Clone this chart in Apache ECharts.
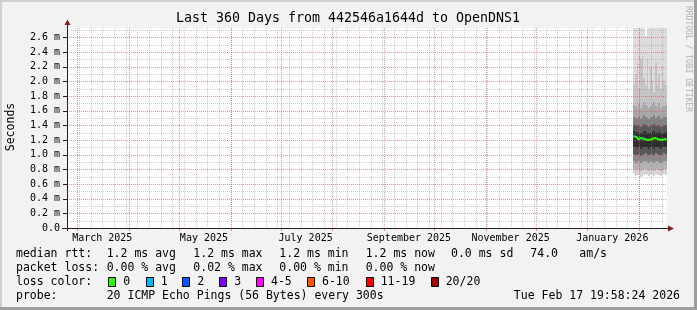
<!DOCTYPE html>
<html><head><meta charset="utf-8">
<script src="https://cdn.jsdelivr.net/npm/echarts@6/dist/echarts.min.js"></script>
<style>html,body{margin:0;padding:0;background:#f2f2f2}#c{width:697px;height:310px}</style>
</head><body><div id="c"></div>
<script>
// ---------- data ----------
const titleText = 'Last 360 Days from 442546a1644d to OpenDNS1';
const endTime = '2026-02-17T19:58:24Z';
const spanDays = 360;
const monthStarts = ['2025-03-01','2025-04-01','2025-05-01','2025-06-01','2025-07-01','2025-08-01',
  '2025-09-01','2025-10-01','2025-11-01','2025-12-01','2026-01-01','2026-02-01'];
const monthLabelDates = ['2025-03-16','2025-05-16','2025-07-16','2025-09-16','2025-11-16','2026-01-16'];
const monthLabelTexts = ['March 2025','May 2025','July 2025','September 2025','November 2025','January 2026'];
const firstWeekLine = '2025-02-23';
const yMajor = [0.2,0.4,0.6,0.8,1.0,1.2,1.4,1.6,1.8,2.0,2.2,2.4,2.6];
const yMinor = [0.1,0.3,0.5,0.7,0.9,1.1,1.3,1.5,1.7,1.9,2.1,2.3,2.5,2.7];
const yLabels = [0,0.2,0.4,0.6,0.8,1.0,1.2,1.4,1.6,1.8,2.0,2.2,2.4,2.6];

const sampleDates = ['2026-01-28T15:00Z','2026-01-29T15:00Z','2026-01-30T15:00Z','2026-01-31T15:00Z',
  '2026-02-01T15:00Z','2026-02-02T15:00Z','2026-02-03T15:00Z','2026-02-04T15:00Z','2026-02-05T15:00Z',
  '2026-02-06T15:00Z','2026-02-07T15:00Z','2026-02-08T15:00Z','2026-02-09T15:00Z','2026-02-10T15:00Z',
  '2026-02-11T15:00Z','2026-02-12T15:00Z','2026-02-13T15:00Z','2026-02-14T15:00Z','2026-02-15T15:00Z',
  '2026-02-16T15:00Z','2026-02-17T19:58:24Z'];
// smoke boundaries (ms), from lowest ping to highest
const pingMin = [0.73,0.71,0.72,0.72,0.70,0.71,0.72,0.73,0.72,0.71,0.72,0.72,0.71,0.73,0.72,0.72,0.71,0.72,0.73,0.72,0.72];
const pingLo1 = [0.80,0.79,0.79,0.80,0.78,0.79,0.80,0.81,0.79,0.78,0.80,0.79,0.78,0.81,0.80,0.79,0.78,0.79,0.81,0.80,0.80];
const pingLo2 = [0.91,0.89,0.90,0.91,0.88,0.90,0.91,0.92,0.90,0.89,0.91,0.90,0.89,0.92,0.91,0.90,0.89,0.90,0.92,0.91,0.91];
const pingLo3 = [1.01,0.99,1.00,1.01,0.98,1.00,1.01,1.02,1.00,0.99,1.01,1.00,0.99,1.02,1.01,1.00,0.99,1.00,1.02,1.01,1.01];
const pingLo4 = [1.10,1.09,1.09,1.10,1.08,1.09,1.10,1.11,1.09,1.08,1.10,1.09,1.08,1.11,1.10,1.09,1.08,1.09,1.11,1.10,1.10];
const median  = [1.25,1.24,1.22,1.21,1.23,1.22,1.21,1.22,1.20,1.19,1.21,1.22,1.23,1.21,1.21,1.22,1.20,1.20,1.21,1.21,1.21];
const pingHi4 = [1.32,1.31,1.30,1.31,1.29,1.30,1.32,1.31,1.29,1.29,1.30,1.31,1.32,1.29,1.30,1.31,1.29,1.29,1.30,1.31,1.31];
const pingHi3 = [1.41,1.40,1.39,1.41,1.38,1.40,1.42,1.41,1.39,1.38,1.40,1.41,1.42,1.39,1.40,1.41,1.38,1.39,1.40,1.41,1.41];
const pingHi2 = [1.52,1.50,1.49,1.52,1.48,1.51,1.54,1.52,1.50,1.48,1.51,1.52,1.54,1.50,1.51,1.53,1.49,1.50,1.51,1.52,1.52];
const pingHi1 = [1.68,1.66,1.64,1.70,1.63,1.68,1.72,1.68,1.66,1.63,1.67,1.69,1.72,1.66,1.67,1.70,1.64,1.66,1.67,1.68,1.68];
const pingHi0 = [1.95,2.10,2.25,1.90,2.30,2.35,2.05,1.95,2.30,1.90,2.20,2.00,1.85,2.25,1.95,2.10,1.90,2.20,2.00,1.95,1.95];
const pingMax = [2.73,2.73,2.73,2.73,2.73,2.73,2.73,2.62,2.73,2.73,2.73,2.73,2.73,2.73,2.73,2.73,2.73,2.73,2.73,2.73,2.73];
const lossCount = [1,0,0,0,0,1,0,0,0,0,0,0,0,0,0,0,0,0,0,0,0];

const lossColors = ['#26ff00','#00b8ff','#0059ff','#7e00ff','#ff00ff','#ff5500','#ff0000','#a10000'];
const lossLabels = ['0','1','2','3','4-5','6-10','11-19','20/20'];
const legendRows = [
  ['median rtt:', '1.2 ms avg', '1.2 ms max', '1.2 ms min', '1.2 ms now', '0.0 ms sd', '74.0', 'am/s'],
  ['packet loss:', '0.00 % avg', '0.02 % max', '0.00 % min', '0.00 % now'],
  ['loss color:'],
  ['probe:', '20 ICMP Echo Pings (56 Bytes) every 300s']
];
const stampText = 'Tue Feb 17 19:58:24 2026';
const yAxisName = 'Seconds';
const watermark = 'RRDTOOL / TOBI OETIKER';

// ---------- build ----------
const DAY = 86400000;
const tEnd = Date.parse(endTime);
const tStart = tEnd - spanDays * DAY;
const ts = sampleDates.map(d => Date.parse(d));
const mStarts = monthStarts.map(d => Date.parse(d + 'T00:00:00Z'));
const mLabelT = monthLabelDates.map(d => Date.parse(d + 'T00:00:00Z'));
const labelMap = {};
mLabelT.forEach((t, i) => labelMap[t] = monthLabelTexts[i]);
const weekLines = [];
for (let t = Date.parse(firstWeekLine + 'T00:00:00Z'); t < tEnd; t += 7 * DAY) weekLines.push(t);

const bounds = [pingMin, pingLo1, pingLo2, pingLo3, pingLo4, median, pingHi4, pingHi3, pingHi2, pingHi1, pingHi0, pingMax];
const bandColors = ['#d4d4d4','#b2b2b2','#8a8a8a','#585858','#2e2e2e','#2e2e2e','#585858','#828282','#a8a8a8','#c4c4c4','#dcdcdc'];

const FONT = 'DejaVu Sans Mono';
const YMAX = 2.727;
const minorColor = 'rgba(143,143,143,0.42)';
const majorColor = 'rgba(222,79,79,0.6)';
const axisColor = '#1f1f1f';

const smokeData = [];
for (let i = 0; i < ts.length - 1; i++)
  for (let b = 0; b < bandColors.length; b++)
    smokeData.push([ts[i], ts[i+1], bounds[b][i], bounds[b+1][i], b]);

function vLineSeries(values, color, withTick, z) {
  return { type:'custom', silent:true, z, data:values.map(t => [t, 0]), encode:{x:0, y:1},
    renderItem(params, api) {
      const cs = params.coordSys;
      const x = Math.round(api.coord([api.value(0), 0])[0]) + 0.5;
      const children = [{ type:'line', shape:{x1:x, y1:cs.y, x2:x, y2:cs.y + cs.height},
        style:{stroke:color, lineWidth:1, lineDash:[1,1]} }];
      if (withTick) children.push({ type:'line', shape:{x1:x, y1:cs.y + cs.height, x2:x, y2:cs.y + cs.height + 3},
        style:{stroke:color, lineWidth:1} });
      return { type:'group', children };
    } };
}
function hLineSeries(values, color, showLine, withTick, z) {
  return { type:'custom', silent:true, z, data:values.map(v => [tStart, v]), encode:{x:0, y:1},
    renderItem(params, api) {
      const cs = params.coordSys;
      const y = Math.round(api.coord([api.value(0), api.value(1)])[1]) + 0.5;
      const children = [];
      if (showLine) children.push({ type:'line', shape:{x1:cs.x, y1:y, x2:cs.x + cs.width, y2:y},
        style:{stroke:color, lineWidth:1, lineDash:[1,1]} });
      if (withTick) children.push({ type:'line', shape:{x1:cs.x - 4, y1:y, x2:cs.x, y2:y},
        style:{stroke:axisColor, lineWidth:1} });
      return { type:'group', children };
    } };
}

const series = [];
series.push({ type:'custom', silent:true, z:2, data:smokeData, encode:{x:[0,1], y:[2,3]},
  renderItem(params, api) {
    const cs = params.coordSys;
    const a = api.coord([api.value(0), api.value(3)]);
    const b = api.coord([api.value(1), api.value(2)]);
    const x0 = Math.round(a[0]), x1 = Math.round(b[0]);
    const y0 = Math.max(Math.round(a[1]), cs.y), y1 = Math.min(Math.round(b[1]), cs.y + cs.height);
    if (y1 <= y0 || x1 <= x0) return null;
    return { type:'rect', shape:{x:x0, y:y0, width:x1-x0, height:y1-y0}, style:{fill:bandColors[api.value(4)]} };
  } });
series.push(vLineSeries(weekLines, minorColor, false, 3));
series.push(hLineSeries(yMinor, minorColor, true, false, 3));
series.push(hLineSeries(yMajor, majorColor, true, true, 3.5));
series.push(hLineSeries([0], majorColor, false, true, 3.5));
series.push(vLineSeries(mStarts, majorColor, true, 3.6));
series.push({ type:'line', step:'end', symbol:'none', silent:true, z:4,
  lineStyle:{color:lossColors[0], width:2}, data: ts.map((t,i)=>[t, median[i]]) });
for (let i = 0; i < ts.length - 1; i++) {
  if (lossCount[i] > 0) {
    series.push({ type:'line', step:'end', symbol:'none', silent:true, z:5,
      lineStyle:{color:lossColors[lossCount[i]], width:2},
      data:[[ts[i], median[i]], [ts[i+1], median[i]]] });
  }
}

const graphic = [];
const txt = (x, y, s, size) => graphic.push({ type:'text', x, y,
  style:{ text:s, font: size + 'px "' + FONT + '"', fill:'#000', textVerticalAlign:'middle' } });
graphic.push({type:'rect', shape:{x:0,y:0,width:697,height:2}, style:{fill:'#cfcfcf'}});
graphic.push({type:'rect', shape:{x:0,y:0,width:2,height:310}, style:{fill:'#cfcfcf'}});
graphic.push({type:'rect', shape:{x:0,y:307,width:697,height:3}, style:{fill:'#9e9e9e'}});
graphic.push({type:'rect', shape:{x:694,y:0,width:3,height:310}, style:{fill:'#9e9e9e'}});
graphic.push({type:'text', x:348, y:19, style:{text:titleText, font:'13.3px "'+FONT+'"', fill:'#000', textAlign:'center', textVerticalAlign:'middle'}});
graphic.push({type:'text', x:11, y:127, rotation:Math.PI/2, style:{text:yAxisName, font:'11.5px "'+FONT+'"', fill:'#000', textAlign:'center', textVerticalAlign:'middle'}});
graphic.push({type:'text', x:688, y:59, rotation:-Math.PI/2, style:{text:watermark, font:'8px "'+FONT+'"', fill:'#b0b0b0', textAlign:'center', textVerticalAlign:'middle'}});
graphic.push({type:'line', shape:{x1:62,y1:228.5,x2:669,y2:228.5}, style:{stroke:axisColor, lineWidth:1}, z:10});
graphic.push({type:'line', shape:{x1:67.5,y1:231,x2:67.5,y2:24}, style:{stroke:axisColor, lineWidth:1}, z:10});
graphic.push({type:'polygon', shape:{points:[[668,225.5],[668,231.5],[674,228.5]]}, style:{fill:'#801f1f'}, z:10});
graphic.push({type:'polygon', shape:{points:[[64.5,25],[70.5,25],[67.5,19.5]]}, style:{fill:'#801f1f'}, z:10});
const colX = [16, 106.7, 193.3, 279.3, 365.7, 451, 530.3, 579.3];
const rowY = [254.5, 268.5, 282.5, 296.5];
legendRows.forEach((row, r) => row.forEach((s, c) => txt(colX[c], rowY[r], s, 11.5)));
const boxX = [108.3,145.7,182.3,219.3,256,307,365.7,430.7];
const boxTextX = [123.3,160.7,197.3,234.3,271,322,380.7,445.7];
lossLabels.forEach((s, i) => {
  graphic.push({type:'rect', shape:{x:Math.round(boxX[i])+0.5, y:277.5, width:7, height:9}, style:{fill:lossColors[i], stroke:'#000', lineWidth:1}});
  txt(boxTextX[i], rowY[2], s, 11.5);
});
graphic.push({type:'text', x:680, y:rowY[3], style:{text:stampText, font:'11.5px "'+FONT+'"', fill:'#000', textAlign:'right', textVerticalAlign:'middle'}});

const chart = echarts.init(document.getElementById('c'), null, {renderer:'canvas'});
chart.setOption({
  animation:false,
  backgroundColor:'#f2f2f2',
  grid:{left:67, top:28, width:600, height:200, show:true, backgroundColor:'#ffffff', borderWidth:0},
  xAxis:{ type:'value', min:tStart, max:tEnd,
    axisLine:{show:false}, splitLine:{show:false}, axisTick:{show:false},
    axisLabel:{ customValues:mLabelT, formatter:v => labelMap[v] || '', margin:5,
      fontFamily:FONT, fontSize:10, color:'#000' } },
  yAxis:{ type:'value', min:0, max:YMAX,
    axisLine:{show:false}, splitLine:{show:false}, axisTick:{show:false},
    axisLabel:{ customValues:yLabels, formatter:v => v === 0 ? '0.0' : v.toFixed(1) + ' m', margin:7,
      fontFamily:FONT, fontSize:10, color:'#000' } },
  series, graphic
});
</script></body></html>
